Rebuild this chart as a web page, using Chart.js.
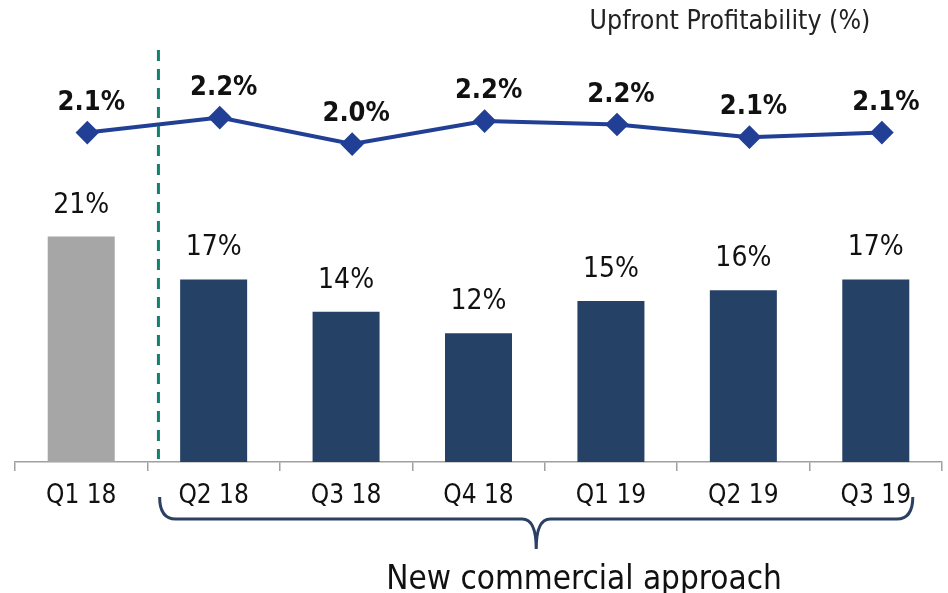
<!DOCTYPE html>
<html>
<head>
<meta charset="utf-8">
<script src="https://cdn.jsdelivr.net/npm/chart.js@4/dist/chart.umd.min.js"></script>
<style>
  html, body { margin: 0; padding: 0; background: #fff; }
  #wrap { width: 948px; height: 593px; }
</style>
</head>
<body>
<div id="wrap"><canvas id="myChart" width="948" height="593"></canvas></div>
<script>
var quarters      = ['Q1 18', 'Q2 18', 'Q3 18', 'Q4 18', 'Q1 19', 'Q2 19', 'Q3 19'];
var volumeShare   = [21, 17, 14, 12, 15, 16, 17];
var profitability = [2.10, 2.23, 2.00, 2.20, 2.17, 2.06, 2.10];
var lineTitle     = 'Upfront Profitability (%)';
var braceText     = 'New commercial approach';

var FONT = '"DejaVu Sans Condensed", "DejaVu Sans", sans-serif';
var navy = '#264166';
var grey = '#a6a6a6';
var lineBlue = '#213f95';

var barColours = volumeShare.map(function(v, i) { return i === 0 ? grey : navy; });
// the line sits a touch right of the bar centres in the original
var linePoints = profitability.map(function(v, i) { return { x: i, y: v }; });

// labels, title, dashed separator and brace
var extras = {
    id: 'extras',
    afterDatasetsDraw: function(chart) {
        var ctx = chart.ctx;
        var x = chart.scales.x;
        var area = chart.chartArea;

        // bar labels
        ctx.save();
        ctx.fillStyle = '#111';
        ctx.textAlign = 'center';
        ctx.textBaseline = 'alphabetic';
        ctx.font = '28px ' + FONT;
        chart.getDatasetMeta(1).data.forEach(function(bar, i) {
            ctx.fillText(volumeShare[i] + '%', bar.x, bar.y - 24);
        });

        // line labels
        ctx.font = 'bold 27px ' + FONT;
        chart.getDatasetMeta(0).data.forEach(function(pt, i) {
            ctx.fillText(profitability[i].toFixed(1) + '%', pt.x + 4, pt.y - 23);
        });

        // title
        ctx.font = '26.5px ' + FONT;
        ctx.fillStyle = '#222';
        ctx.fillText(lineTitle, 730, 29);

        // dashed separator
        var sep = (x.getPixelForValue(0) + x.getPixelForValue(1)) / 2 + 11;
        ctx.strokeStyle = '#12806b';
        ctx.lineWidth = 3;
        ctx.setLineDash([11, 8]);
        ctx.beginPath();
        ctx.moveTo(sep, 50);
        ctx.lineTo(sep, area.bottom - 3);
        ctx.stroke();
        ctx.setLineDash([]);

        // brace
        var left = x.getPixelForValue(1) - 54;
        var right = x.getPixelForValue(6) + 37;
        var mid = (left + right) / 2;
        var top = 497, flat = 519, tip = 549;
        ctx.strokeStyle = '#2a4164';
        ctx.lineWidth = 3;
        ctx.beginPath();
        ctx.moveTo(left, top);
        ctx.quadraticCurveTo(left, flat, left + 16, flat);
        ctx.lineTo(mid - 14, flat);
        ctx.quadraticCurveTo(mid, flat, mid, tip);
        ctx.quadraticCurveTo(mid, flat, mid + 14, flat);
        ctx.lineTo(right - 16, flat);
        ctx.quadraticCurveTo(right, flat, right, top);
        ctx.stroke();

        ctx.font = '33px ' + FONT;
        ctx.fillStyle = '#111';
        ctx.fillText(braceText, 584, 589);
        ctx.restore();
    }
};

var chart = new Chart(document.getElementById('myChart'), {
    data: {
        labels: quarters,
        datasets: [{
            type: 'line',
            label: lineTitle,
            data: linePoints,
            xAxisID: 'x2',
            yAxisID: 'y1',
            borderColor: lineBlue,
            backgroundColor: lineBlue,
            borderWidth: 4,
            pointStyle: 'rectRot',
            pointRadius: 9,
            pointHoverRadius: 9,
            tension: 0,
            order: 0
        }, {
            type: 'bar',
            label: 'Share',
            data: volumeShare,
            xAxisID: 'x',
            yAxisID: 'y',
            backgroundColor: barColours,
            grouped: false,
            categoryPercentage: 1,
            barPercentage: 0.506,
            order: 1
        }]
    },
    options: {
        responsive: false,
        animation: false,
        layout: {
            autoPadding: false,
            padding: { left: 15, right: 6, top: 40, bottom: 0 }
        },
        plugins: {
            legend: { display: false },
            tooltip: { enabled: false }
        },
        scales: {
            x: {
                type: 'category',
                offset: true,
                grid: {
                    offset: true,
                    drawOnChartArea: false,
                    drawTicks: true,
                    tickLength: 9,
                    color: '#a0a0a0',
                    lineWidth: 1.5
                },
                border: { display: true, color: '#a0a0a0', width: 1.5 },
                ticks: {
                    color: '#111',
                    padding: 3,
                    font: { family: FONT, size: 26, lineHeight: 1.74 }
                },
                afterFit: function(scale) { scale.height = 131; }
            },
            x2: {
                type: 'linear',
                display: false,
                min: -0.546,
                max: 6.454
            },
            y: {
                display: false,
                min: 0,
                max: 39.3
            },
            y1: {
                display: false,
                min: -0.765,
                max: 2.905
            }
        }
    },
    plugins: [extras]
});
</script>
</body>
</html>
